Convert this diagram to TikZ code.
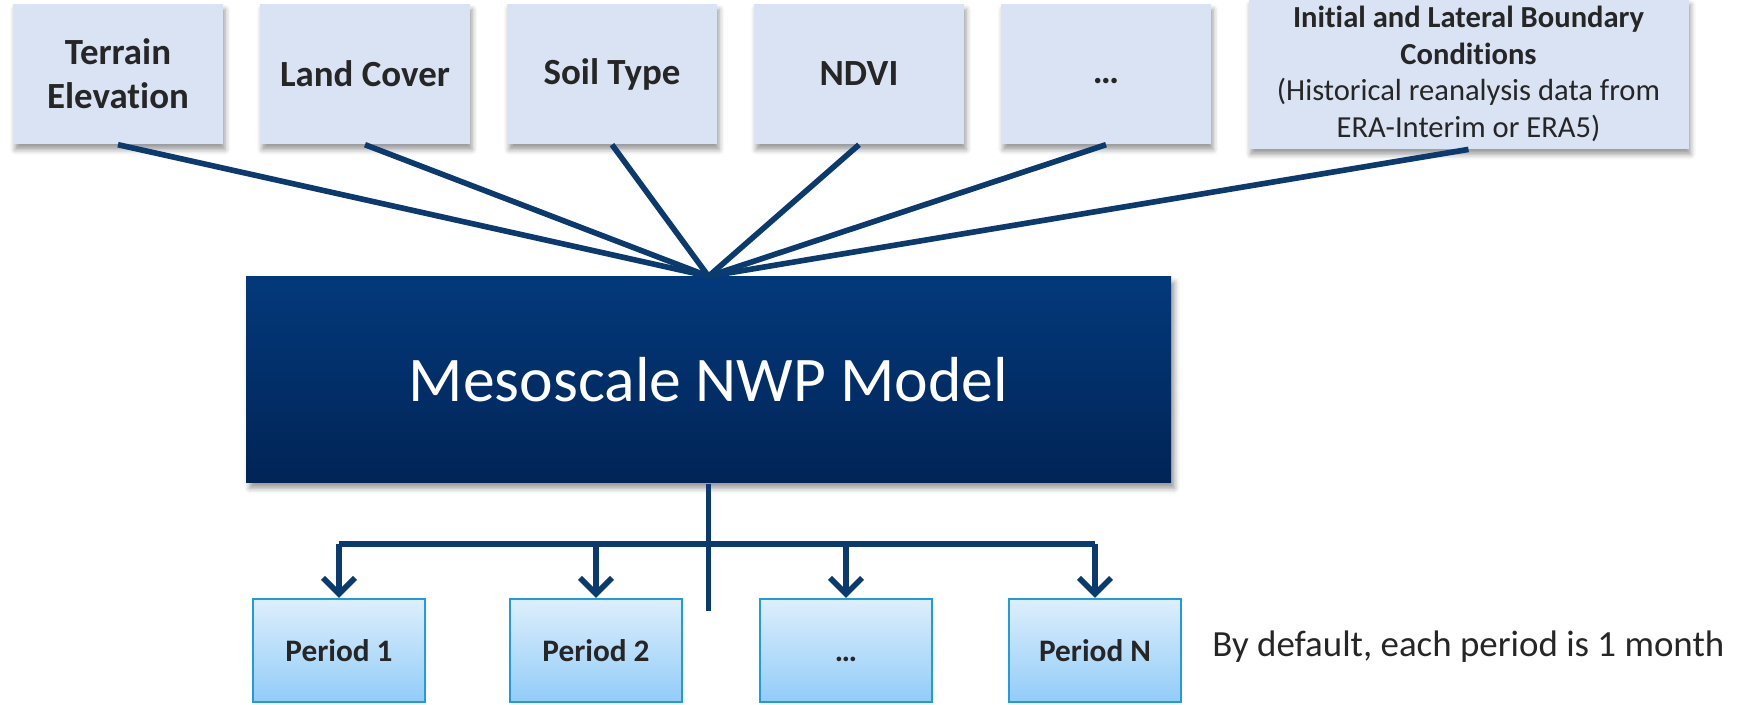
\documentclass[tikz,border=0pt]{standalone}
\usepackage{fontspec}
\setmainfont{Carlito}[Ligatures=NoCommon]
\usetikzlibrary{positioning,arrows.meta,shadows.blur}

\definecolor{inbox}{HTML}{DAE3F3}
\definecolor{txtgray}{HTML}{262626}
\definecolor{navy}{HTML}{0A3A6E}
\definecolor{nwptop}{HTML}{03397B}
\definecolor{nwpbot}{HTML}{012456}
\definecolor{pertop}{HTML}{DDEFFC}
\definecolor{perbot}{HTML}{92CCF8}
\definecolor{perline}{HTML}{1F9BDE}

\tikzset{
    inputbox/.style={fill=inbox, minimum width=2.10cm, minimum height=1.40cm,
        align=center, text=txtgray, inner sep=2pt,
        font=\fontsize{10.5}{12.6}\selectfont\bfseries,
        blur shadow={shadow xshift=0.6pt, shadow yshift=-1.6pt, shadow blur radius=1.5pt}},
    nwpbox/.style={top color=nwptop, bottom color=nwpbot, minimum width=9.25cm,
        minimum height=2.06cm, text=white, font=\fontsize{18.1}{21}\selectfont,
        blur shadow={shadow xshift=1pt, shadow yshift=-1.5pt, shadow blur radius=1.5pt}},
    periodbox/.style={top color=pertop, bottom color=perbot, draw=perline, line width=0.6pt,
        minimum width=1.72cm, minimum height=1.03cm, text=txtgray,
        font=\fontsize{8.9}{10.7}\selectfont\bfseries},
    feed/.style={navy, line width=1.6pt},
}

\begin{document}
\begin{tikzpicture}
    \useasboundingbox (0,0) rectangle (17.40,7.04);

    % input data
    \node[inputbox] (terrain)   at (1.18,6.30)  {Terrain\\Elevation};
    \node[inputbox] (landcover) at (3.65,6.30)  {Land Cover};
    \node[inputbox] (soil)      at (6.12,6.30)  {Soil Type};
    \node[inputbox] (ndvi)      at (8.59,6.30)  {NDVI};
    \node[inputbox] (moreinput) at (11.06,6.30) {\vphantom{Ly}…};
    \node[inputbox, minimum width=4.40cm, font=\fontsize{8.7}{10.4}\selectfont] (boundary) at (14.685,6.30)
        {\textbf{Initial and Lateral Boundary}\\\textbf{Conditions}\\(Historical reanalysis data from\\ERA-Interim or ERA5)};

    % the model
    \node[nwpbox] (nwp) at (7.085,3.24) {Mesoscale NWP Model};

    \foreach \src in {terrain,landcover,soil,ndvi,moreinput,boundary}
        \draw[feed] (\src.south) -- (nwp.north);

    % output periods
    \node[periodbox] (per1)    at (3.39,0.535)  {Period 1};
    \node[periodbox] (per2)    at (5.96,0.535)  {Period 2};
    \node[periodbox] (perdots) at (8.46,0.535)  {\vphantom{Pd}…};
    \node[periodbox] (perN)    at (10.95,0.535) {Period N};
    \node[right=0.18cm of perN, text=txtgray, font=\fontsize{10.5}{12.6}\selectfont, yshift=1pt] (note)
        {By default, each period is 1 month};

    \coordinate (bus) at (0,1.60);
    \coordinate (stub) at (nwp.south |- 0,0.93);
    \draw[feed] (nwp.south) -- (stub);
    \draw[feed] (per1.north |- bus) -- (perN.north |- bus);
    \foreach \p in {per1,per2,perdots,perN}
        \draw[feed, -{Straight Barb[length=1.6mm,width=3.2mm]}] (\p.north |- bus) -- (\p.north);
\end{tikzpicture}
\end{document}
